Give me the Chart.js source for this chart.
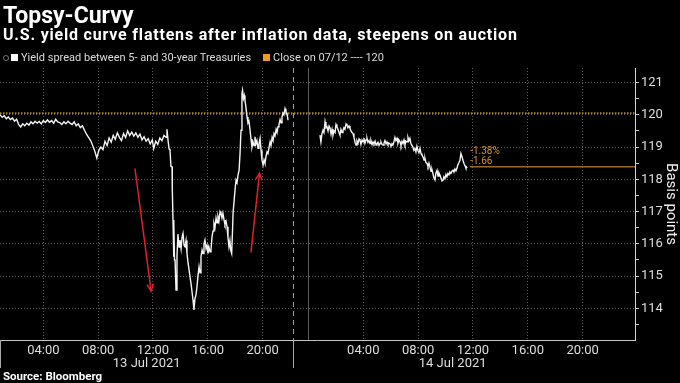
<!DOCTYPE html>
<html>
<head>
<meta charset="utf-8">
<script src="https://cdn.jsdelivr.net/npm/chart.js@4.4.1/dist/chart.umd.min.js"></script>
<style>
  html, body { margin: 0; padding: 0; background: #000; }
  #wrap { position: relative; width: 680px; height: 383px; overflow: hidden; background: #000; }
  #chartBox { position: absolute; left: 0; top: 0; width: 680px; height: 383px; }
  .txt { position: absolute; left: 3px; color: #fff; font-family: Roboto, "Liberation Sans", sans-serif; white-space: nowrap; line-height: 1; }
  #title { top: 4px; font-size: 23px; font-weight: 700; }
  #subtitle { top: 27px; font-size: 16px; font-weight: 700; letter-spacing: 0.8px; }
  #legend { top: 52px; font-size: 11px; color: #dcdcdc; display: flex; align-items: center; }
  #legend .sw { display: inline-block; width: 7px; height: 7px; margin-right: 3px; }
  #legend .item { display: inline-flex; align-items: center; margin-right: 12px; }
  #legend .pin { display:inline-block; width:4px; height:4px; border-radius:50%; border:1px solid #777; margin-right:2px; }
  #source { top: 371px; font-size: 11.5px; font-weight: 700; }
</style>
</head>
<body>
<div id="wrap">
  <div id="chartBox"><canvas id="c"></canvas></div>
  <div class="txt" id="title">Topsy-Curvy</div>
  <div class="txt" id="subtitle">U.S. yield curve flattens after inflation data, steepens on auction</div>
  <div class="txt" id="legend">
    <span class="pin"></span>
    <span class="item"><span class="sw" style="background:#ffffff"></span><span id="lg1"></span></span>
    <span class="item"><span class="sw" style="background:#f39a1e"></span><span id="lg2"></span></span>
  </div>
  <div class="txt" id="source">Source: Bloomberg</div>
</div>
<script>
// ---------------- DATA ----------------
const SERIES_LABEL = 'Yield spread between 5- and 30-year Treasuries';
const CLOSE_LABEL = 'Close on 07/12 ---- 120';
const CLOSE_0712 = 120.05;           // previous close (bp)

// 13 Jul 2021 (clock hours) and spread values (bp)
const day1Hours = [
  0.84,1.00,1.15,1.30,1.45,1.60,1.75,1.90,2.05,2.20,2.35,2.50,2.65,2.80,2.95,3.10,3.25,3.40,3.55,3.70,
  3.85,4.00,4.15,4.30,4.45,4.60,4.75,4.90,5.05,5.20,5.35,5.50,5.65,5.80,5.95,6.10,6.25,6.40,6.55,6.70,
  6.85,7.00,7.15,7.30,7.45,7.60,7.75,7.90,8.05,8.20,8.35,8.50,8.65,8.80,8.95,9.10,9.25,9.40,9.55,9.70,
  9.85,10.00,10.15,10.30,10.45,10.60,10.75,10.90,11.05,11.20,11.35,11.50,11.65,11.80,11.95,12.05,12.20,12.35,12.50,12.65,
  12.80,12.95,13.02,13.10,13.17,13.24,13.31,13.39,13.41,13.46,13.50,13.53,13.57,13.61,13.68,13.75,13.82,13.90,13.97,14.05,
  14.12,14.19,14.27,14.34,14.41,14.48,14.56,14.63,14.70,14.78,14.85,14.92,14.99,15.06,15.13,15.21,15.28,15.36,15.43,15.50,
  15.58,15.65,15.72,15.79,15.87,15.94,16.01,16.08,16.16,16.23,16.30,16.38,16.45,16.52,16.60,16.67,16.74,16.81,16.89,16.96,
  17.03,17.10,17.18,17.25,17.33,17.40,17.47,17.54,17.61,17.67,17.74,17.80,17.84,17.91,17.99,18.06,18.13,18.21,18.28,18.35,
  18.42,18.49,18.53,18.60,18.66,18.71,18.79,18.86,18.93,19.00,19.08,19.15,19.22,19.30,19.37,19.44,19.51,19.58,19.66,19.73,
  19.81,19.88,19.95,20.03,20.10,20.17,20.24,20.32,20.39,20.47,20.54,20.61,20.69,20.76,20.83,20.90,20.98,21.05,21.12,21.19,
  21.27,21.34,21.41,21.48,21.55,21.63,21.70,21.78,21.85
];
const day1Values = [
  120.00,119.92,119.97,119.88,119.93,119.85,119.90,119.80,119.86,119.70,119.62,119.72,119.66,119.74,119.68,119.78,119.72,119.80,119.74,119.79,
  119.72,119.82,119.76,119.84,119.77,119.82,119.74,119.86,119.78,119.76,119.70,119.78,119.72,119.80,119.74,119.70,119.78,119.66,119.72,119.60,
  119.66,119.52,119.40,119.30,119.20,119.05,118.88,118.66,118.90,119.00,118.92,119.18,119.05,119.28,119.15,119.36,119.24,119.44,119.30,119.20,
  119.42,119.30,119.50,119.36,119.46,119.34,119.44,119.30,119.40,119.22,119.32,119.18,119.26,119.10,119.22,118.95,119.18,119.08,119.28,119.20,
  119.36,119.30,119.55,119.20,118.95,118.90,118.40,118.39,117.67,116.70,115.60,116.74,115.50,115.50,114.57,115.60,116.30,115.90,116.12,115.85,
  116.20,116.32,115.95,115.91,116.10,115.70,115.40,115.20,114.98,114.75,114.50,114.26,113.95,114.30,114.40,114.67,115.00,115.29,115.10,115.60,
  115.81,115.70,116.00,116.12,115.85,115.95,115.70,115.90,115.75,115.81,116.20,116.40,116.63,116.50,116.80,116.65,116.84,116.70,117.00,116.94,
  116.80,116.95,116.74,116.60,116.70,116.53,116.20,115.91,116.10,115.80,115.70,116.40,116.95,117.30,117.70,117.98,117.90,118.15,118.28,118.80,
  119.52,120.66,120.76,120.50,120.60,120.45,120.20,119.93,119.75,119.80,119.52,119.25,119.00,119.15,119.05,119.32,119.10,119.20,118.96,119.10,
  119.27,118.90,118.60,118.44,118.60,118.50,118.70,118.85,118.80,119.00,119.16,119.05,119.30,119.20,119.42,119.35,119.55,119.45,119.63,119.70,
  119.85,119.75,119.93,120.05,120.00,120.19,120.10,120.04,119.83
];

// 14 Jul 2021 (clock hours) and spread values (bp)
const day2Hours = [
  0.84,0.91,0.98,1.06,1.13,1.21,1.28,1.35,1.43,1.50,1.58,1.65,1.72,1.79,1.86,1.94,2.01,2.08,2.15,2.23,
  2.30,2.37,2.45,2.52,2.59,2.66,2.74,2.81,2.88,2.96,3.03,3.10,3.18,3.25,3.32,3.40,3.47,3.54,3.62,3.69,
  3.76,3.83,3.91,3.98,4.05,4.12,4.20,4.27,4.34,4.42,4.49,4.56,4.64,4.71,4.78,4.86,4.93,5.00,5.07,5.15,
  5.22,5.29,5.37,5.44,5.51,5.58,5.66,5.73,5.80,5.87,5.94,6.02,6.09,6.16,6.24,6.31,6.38,6.46,6.53,6.60,
  6.68,6.75,6.82,6.90,6.97,7.04,7.12,7.19,7.26,7.33,7.40,7.48,7.55,7.62,7.69,7.77,7.84,7.91,7.98,8.06,
  8.14,8.21,8.28,8.35,8.43,8.50,8.57,8.65,8.72,8.79,8.86,8.94,9.01,9.08,9.15,9.23,9.30,9.38,9.45,9.52,
  9.59,9.66,9.74,9.81,9.88,9.96,10.03,10.10,10.17,10.25,10.32,10.39,10.47,10.54,10.61,10.68,10.76,10.83,10.90,10.98,
  11.05,11.12,11.20,11.27,11.34,11.42,11.49,11.58
];
const day2Values = [
  119.37,119.16,119.40,119.52,119.45,119.78,119.60,119.63,119.50,119.65,119.58,119.40,119.55,119.37,119.50,119.45,119.70,119.63,119.55,119.45,
  119.37,119.55,119.45,119.52,119.60,119.55,119.72,119.68,119.60,119.65,119.58,119.50,119.45,119.42,119.30,119.15,119.06,119.20,119.12,119.25,
  119.21,119.08,119.22,119.16,119.28,119.12,119.22,119.27,119.15,119.20,119.11,119.20,119.08,119.16,119.10,119.18,119.06,119.11,119.15,119.05,
  119.11,119.16,119.08,119.06,119.12,119.20,119.10,119.16,119.08,119.12,119.11,119.02,119.10,119.06,119.18,119.30,119.20,119.27,119.12,119.22,
  119.16,119.05,119.18,119.11,119.22,119.08,119.18,119.16,119.30,119.20,119.27,119.10,119.05,119.00,118.90,118.95,118.85,119.02,118.90,118.82,
  118.96,118.80,118.75,118.70,118.60,118.65,118.52,118.49,118.40,118.50,118.39,118.25,118.30,118.18,118.05,117.98,118.20,118.28,118.10,118.20,
  118.13,118.05,117.95,117.97,118.08,118.02,118.15,118.08,118.18,118.14,118.23,118.18,118.25,118.28,118.22,118.32,118.26,118.34,118.45,118.52,
  118.59,118.80,118.70,118.59,118.50,118.42,118.35,118.39
];

// axis ticks / labels
const yTickValues = [114, 115, 116, 117, 118, 119, 120, 121];
const timeTickHours = [4, 8, 12, 16, 20];
const dateLabels = ['13 Jul 2021', '14 Jul 2021'];
const dateLabelHours = [11.54, 10.52];     // clock hour on each day where the date label sits

// chart time frame (hours from 13 Jul 00:00; the overnight gap is compressed on the chart)
const X_MIN = 0.84, X_MAX = 47.16;
const DAY2_START = 23.34;      // chart position of 14 Jul 00:00
const SESSION_BREAK = 22.24;   // dashed session divider
const Y_MIN = 113.02, Y_MAX = 121.45;

// annotation arrows [chart hour, bp] -> [chart hour, bp]
const arrows = [
  { from: [10.69, 118.32], to: [11.86, 114.54] },
  { from: [19.15, 115.75], to: [19.77, 118.19] }
];

// ---------------- BUILD ----------------
document.getElementById('lg1').textContent = SERIES_LABEL;
document.getElementById('lg2').textContent = CLOSE_LABEL;

const spreadPoints = day1Hours.map((h, i) => ({ x: h, y: day1Values[i] }))
  .concat([{ x: SESSION_BREAK, y: null }])
  .concat(day2Hours.map((h, i) => ({ x: DAY2_START + h, y: day2Values[i] })));

const LAST = day2Values[day2Values.length - 1];
const LAST_X = DAY2_START + day2Hours[day2Hours.length - 1];
const CHANGE = LAST - CLOSE_0712;
const CHANGE_PCT = CHANGE / CLOSE_0712 * 100;

const xTicks = timeTickHours.map(h => h)
  .concat([DAY2_START])
  .concat(timeTickHours.map(h => DAY2_START + h));
const yTicksAll = yTickValues.flatMap(v => [v - 0.5, v]);

const FONT = 'Roboto, "Liberation Sans", sans-serif';

const decor = {
  id: 'decor',
  beforeDatasetsDraw(chart) {
    const { ctx, chartArea: a, scales: { x } } = chart;
    ctx.save();
    const xm = Math.round(x.getPixelForValue(DAY2_START)) + 0.5;
    ctx.strokeStyle = '#5e5e5e'; ctx.lineWidth = 1; ctx.setLineDash([]);
    ctx.beginPath(); ctx.moveTo(xm, a.top); ctx.lineTo(xm, a.bottom); ctx.stroke();
    const xb = Math.round(x.getPixelForValue(SESSION_BREAK)) + 0.5;
    ctx.strokeStyle = '#9a9a9a'; ctx.setLineDash([5, 4]);
    ctx.beginPath(); ctx.moveTo(xb, a.top); ctx.lineTo(xb, a.bottom); ctx.stroke();
    ctx.restore();
  },
  afterDatasetsDraw(chart) {
    const { ctx, chartArea: a, scales: { x, y } } = chart;
    ctx.save();
    ctx.setLineDash([]);
    ctx.strokeStyle = '#c4c4c4'; ctx.lineWidth = 1;
    ctx.beginPath(); ctx.moveTo(a.left, a.bottom + 0.5); ctx.lineTo(a.right, a.bottom + 0.5); ctx.stroke();
    ctx.strokeStyle = '#d4d4d4';
    ctx.beginPath(); ctx.moveTo(a.right + 0.5, a.top); ctx.lineTo(a.right + 0.5, a.bottom + 1); ctx.stroke();
    const xb = Math.round(x.getPixelForValue(SESSION_BREAK)) + 0.5;
    ctx.strokeStyle = '#a8a8a8';
    ctx.beginPath(); ctx.moveTo(xb, a.bottom); ctx.lineTo(xb, a.bottom + 28); ctx.stroke();
    ctx.beginPath(); ctx.moveTo(a.left + 0.5, a.bottom); ctx.lineTo(a.left + 0.5, a.bottom + 28); ctx.stroke();
    ctx.strokeStyle = '#e2202c'; ctx.lineWidth = 1.5; ctx.lineCap = 'round';
    arrows.forEach(ar => {
      const fx = x.getPixelForValue(ar.from[0]), fy = y.getPixelForValue(ar.from[1]);
      const tx = x.getPixelForValue(ar.to[0]), ty = y.getPixelForValue(ar.to[1]);
      const ang = Math.atan2(ty - fy, tx - fx), L = 7, w = 0.45;
      ctx.beginPath(); ctx.moveTo(fx, fy); ctx.lineTo(tx, ty); ctx.stroke();
      ctx.beginPath();
      ctx.moveTo(tx - L * Math.cos(ang - w), ty - L * Math.sin(ang - w));
      ctx.lineTo(tx, ty);
      ctx.lineTo(tx - L * Math.cos(ang + w), ty - L * Math.sin(ang + w));
      ctx.stroke();
    });
    const px = x.getPixelForValue(LAST_X), py = y.getPixelForValue(LAST);
    ctx.fillStyle = '#d98f2b';
    ctx.font = '10px ' + FONT;
    ctx.textAlign = 'left'; ctx.textBaseline = 'middle';
    ctx.fillText(CHANGE_PCT.toFixed(2) + '%', px + 3, py - 15);
    ctx.fillText(CHANGE.toFixed(2), px + 3, py - 5);
    ctx.restore();
  }
};

const gridDot = '#5c5c5c';

new Chart(document.getElementById('c'), {
  type: 'line',
  data: {
    datasets: [
      { label: SERIES_LABEL, data: spreadPoints, borderColor: '#f4f4f4', borderWidth: 1.4,
        pointRadius: 0, tension: 0, spanGaps: false, xAxisID: 'x', yAxisID: 'y' },
      { label: CLOSE_LABEL, data: [{ x: X_MIN, y: CLOSE_0712 }, { x: X_MAX, y: CLOSE_0712 }],
        borderColor: '#b3801f', borderWidth: 1.6, borderDash: [1.5, 1.5], pointRadius: 0, xAxisID: 'x', yAxisID: 'y' },
      { label: 'Last', data: [{ x: LAST_X + 0.2, y: LAST }, { x: X_MAX, y: LAST }],
        borderColor: '#9b6a24', borderWidth: 1.6, pointRadius: 0, xAxisID: 'x', yAxisID: 'y' }
    ]
  },
  options: {
    responsive: true,
    maintainAspectRatio: false,
    animation: false,
    events: [],
    layout: { padding: { top: 68, bottom: 13, left: 0, right: 0 } },
    plugins: { legend: { display: false }, title: { display: false }, tooltip: { enabled: false } },
    scales: {
      x: {
        type: 'linear', position: 'bottom', min: X_MIN, max: X_MAX,
        afterBuildTicks: s => { s.ticks = xTicks.map(v => ({ value: v })); },
        afterFit: s => { s.height = 16; },
        grid: {
          color: c => (c.tick && Math.abs(c.tick.value - DAY2_START) < 1e-6) ? 'transparent' : gridDot,
          drawTicks: false, lineWidth: 1
        },
        border: { display: false, dash: [1, 2] },
        ticks: {
          color: '#dedede', font: { family: FONT, size: 13 }, padding: 3, maxRotation: 0, autoSkip: false,
          callback: v => {
            const clock = v >= DAY2_START - 1e-6 ? v - DAY2_START : v;
            if (Math.abs(clock) < 1e-6) return '';
            return String(Math.round(clock)).padStart(2, '0') + ':00';
          }
        }
      },
      xd: {
        type: 'linear', position: 'bottom', min: X_MIN, max: X_MAX,
        afterBuildTicks: s => { s.ticks = [{ value: dateLabelHours[0] }, { value: DAY2_START + dateLabelHours[1] }]; },
        afterFit: s => { s.height = 14; },
        grid: { display: false, drawTicks: false },
        border: { display: false },
        ticks: { color: '#dedede', font: { family: FONT, size: 13 }, padding: 0, maxRotation: 0, autoSkip: false,
          callback: (v, i) => dateLabels[i] }
      },
      y: {
        type: 'linear', position: 'right', min: Y_MIN, max: Y_MAX,
        afterBuildTicks: s => { s.ticks = yTicksAll.map(v => ({ value: v })); },
        afterFit: s => { s.width = 45; },
        grid: {
          color: c => (c.tick && Number.isInteger(c.tick.value)) ? gridDot : 'transparent',
          tickColor: '#d0d0d0', tickLength: 4, drawTicks: true, lineWidth: 1
        },
        border: { display: false, dash: [1, 2] },
        ticks: {
          color: '#dedede', font: { family: FONT, size: 13 }, padding: 2, autoSkip: false,
          callback: v => Number.isInteger(v) ? String(v) : ''
        },
        title: { display: true, text: 'Basis points', color: '#eeeeee', font: { family: FONT, size: 15 }, padding: 0 }
      }
    }
  },
  plugins: [decor]
});
</script>
</body>
</html>
